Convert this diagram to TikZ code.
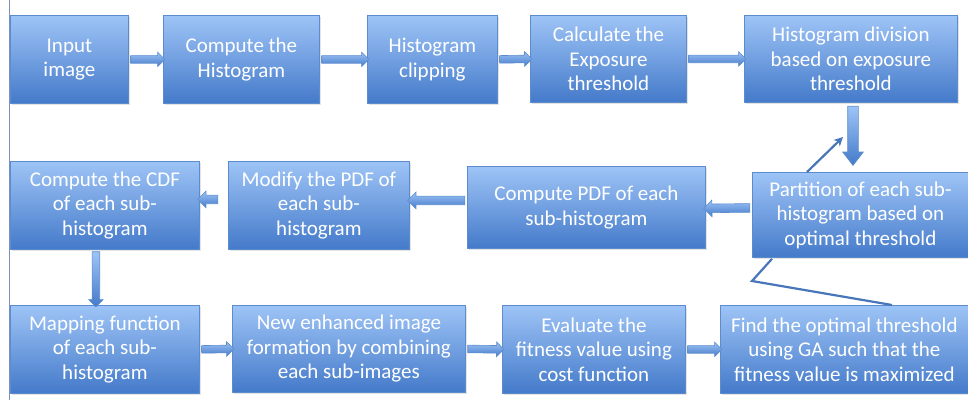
\documentclass[tikz,border=0pt]{standalone}
\usepackage{fontspec}
\setmainfont{Carlito}
\usetikzlibrary{shapes.arrows,shadows,calc,arrows.meta}

\definecolor{boxtop}{RGB}{158,196,246}
\definecolor{boxbot}{RGB}{68,122,202}
\definecolor{boxline}{RGB}{92,140,205}
\definecolor{linkblue}{RGB}{72,118,186}
\definecolor{rulegrey}{RGB}{120,145,190}

\tikzset{
  stage/.style={draw=boxline, line width=0.8pt, top color=boxtop, bottom color=boxbot,
    text=white, align=center, font=\fontsize{21}{24.5}\selectfont,
    anchor=north west, inner sep=0pt,
    drop shadow={opacity=0.22, shadow xshift=1.5pt, shadow yshift=-2pt}},
  flow/.style={single arrow, draw=boxline, line width=0.6pt,
    top color=boxtop, bottom color=boxbot, inner sep=0pt,
    single arrow tip angle=90, sloped, allow upside down, midway},
  thin/.style={flow, inner ysep=3.5pt, single arrow head extend=3.5pt},
  mid/.style={flow, inner ysep=4pt, single arrow head extend=4pt},
  wide/.style={flow, inner ysep=5pt, single arrow head extend=5pt, single arrow tip angle=75},
  link/.style={draw=linkblue, line width=2.2pt, line join=miter}
}

% block arrow spanning the straight segment between two points
\newcommand\flowarrow[3]{%
  \path let \p1=(#2), \p2=(#3), \n1={veclen(\x2-\x1,\y2-\y1)} in
    (\p1) -- (\p2) node[#1, minimum height=\n1] {};}

\begin{document}
\begin{tikzpicture}[x=1pt, y=-1pt]
\useasboundingbox (0,0) rectangle (968,400);

% left rule
\draw[rulegrey, line width=0.8pt] (9,0) -- (9,400);

% first row
\node[stage, minimum width=118, minimum height=88] (in) at (10,15) {Input\\image};
\node[stage, minimum width=156, minimum height=88] (ch) at (163,15) {Compute the\\Histogram};
\node[stage, minimum width=130, minimum height=88] (hc) at (367,15) {Histogram\\clipping};
\node[stage, minimum width=156, minimum height=87] (et) at (530,15) {Calculate the\\Exposure\\threshold};
\node[stage, minimum width=213, minimum height=87] (hd) at (744,15) {Histogram division\\based on exposure\\threshold};

% second row
\node[stage, minimum width=189, minimum height=88] (cdf) at (10,161) {Compute the CDF\\of each sub-\\histogram};
\node[stage, minimum width=181, minimum height=88] (mp) at (228,161) {Modify the PDF of\\each sub-\\histogram};
\node[stage, minimum width=238, minimum height=82] (pdf) at (467,166) {Compute PDF of each\\sub-histogram};
\node[stage, minimum width=216, minimum height=85] (part) at (752,172) {Partition of each sub-\\histogram based on\\optimal threshold};

% third row
\node[stage, minimum width=189, minimum height=88] (map) at (10,305) {Mapping function\\of each sub-\\histogram};
\node[stage, minimum width=233, minimum height=87] (ne) at (232,305) {New enhanced image\\formation by combining\\each sub-images};
\node[stage, minimum width=183, minimum height=88] (ev) at (502,305) {Evaluate the\\fitness value using\\cost function};
\node[stage, minimum width=248, minimum height=88] (fo) at (720,305) {Find the optimal threshold\\using GA such that the\\fitness value is maximized};

% auxiliary end points
\coordinate (hdtip) at (853,162);
\coordinate (up) at (843,137);
\coordinate (bend) at (752,281);

% first row links
\flowarrow{thin}{in.east}{ch.west}
\flowarrow{thin}{ch.east}{hc.west}
\flowarrow{thin}{hc.east}{et.west}
\flowarrow{thin}{et.east}{hd.west}
\flowarrow{wide}{hd.south -| hdtip}{hdtip}

% second row links
\flowarrow{mid}{$(part.west)+(0,-7)$}{$(pdf.east)+(0,1)$}
\flowarrow{mid}{$(pdf.west)+(0,-7)$}{$(mp.east)+(0,-5)$}
\flowarrow{mid}{$(mp.west)+(-8,-6)$}{$(cdf.east)+(0,-6)$}
\flowarrow{thin}{$(cdf.south)+(-9,0)$}{$(map.north)+(-9,0)$}

% third row links
\flowarrow{thin}{map.east}{ne.west}
\flowarrow{thin}{ne.east}{ev.west}
\flowarrow{thin}{ev.east}{fo.west}

% feedback lines around the partition step
\draw[link, -{Stealth[length=9pt, width=9pt, open]}] ($(part.north west)+(55,0)$) -- (up);
\draw[link] ($(part.south west)+(20,1)$) -- (bend) -- ($(fo.north west)+(172,0)$);
\end{tikzpicture}
\end{document}
